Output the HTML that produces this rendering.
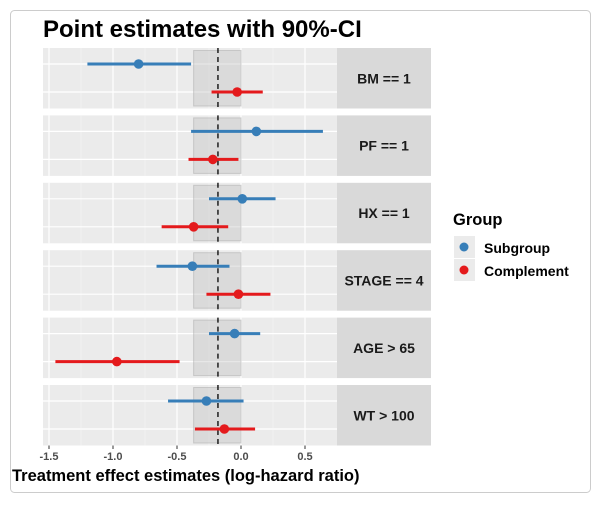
<!DOCTYPE html>
<html><head><meta charset="utf-8"><style>
body{margin:0;background:#fff;font-family:"Liberation Sans",Arial,sans-serif}
svg text{font-family:"Liberation Sans",Arial,sans-serif}
</style></head><body>
<svg id="chart" width="606" height="505" xmlns="http://www.w3.org/2000/svg">
<rect x="10.5" y="10.5" width="580" height="482" rx="4" fill="#fff" stroke="#ccc"/>
<text x="43" y="37" font-size="24" font-weight="bold" fill="#000">Point estimates with 90%-CI</text>
<g id="panels"></g>
<g id="xaxis"></g>
<text x="12" y="481" font-size="16.5" font-weight="bold" fill="#000">Treatment effect estimates (log-hazard ratio)</text>
<g>
<text x="453" y="225" font-size="16.5" font-weight="bold">Group</text>
<rect x="454" y="236" width="21" height="22" fill="#ebebeb"/>
<circle cx="464" cy="247" r="4.5" fill="#377eb8"/>
<text x="484" y="253" font-size="14" font-weight="bold">Subgroup</text>
<rect x="454" y="259" width="21" height="22" fill="#ebebeb"/>
<circle cx="464" cy="270" r="4.5" fill="#e41a1c"/>
<text x="484" y="276" font-size="14" font-weight="bold">Complement</text>
</g>
</svg>
<script>
const categories=["BM == 1","PF == 1","HX == 1","STAGE == 4","AGE > 65","WT > 100"];
const subEst=[-0.80,0.12,0.01,-0.38,-0.05,-0.27];
const subLo=[-1.20,-0.39,-0.25,-0.66,-0.25,-0.57];
const subHi=[-0.39,0.64,0.27,-0.09,0.15,0.02];
const compEst=[-0.03,-0.22,-0.37,-0.02,-0.97,-0.13];
const compLo=[-0.23,-0.41,-0.62,-0.27,-1.45,-0.36];
const compHi=[0.17,-0.02,-0.10,0.23,-0.48,0.11];
const overall=[-0.18];
const bandLo=[-0.37];
const bandHi=[0.0];
const ticks=[-1.5,-1.0,-0.5,0.0,0.5];
const tickLabels=["-1.5","-1.0","-0.5","0.0","0.5"];

const NS="http://www.w3.org/2000/svg";
const L=43,R=337,X0=241,PX=128;
const x=v=>X0+v*PX;
function mk(tag,attrs,parent){const e=document.createElementNS(NS,tag);for(const k in attrs)e.setAttribute(k,attrs[k]);parent.appendChild(e);return e;}
const P=document.getElementById('panels');
categories.forEach((c,i)=>{
  const top=48+i*67.4,h=60.5;
  const g=mk('g',{},P);
  
  
  const bg=mk('rect',{x:L,y:top,width:R-L,height:h,fill:'#ebebeb'},g);
  
  
  for(let t=-1.75;t<=0.75;t+=0.5){const xx=x(t);if(xx>L&&xx<R)mk('line',{x1:xx,x2:xx,y1:top,y2:top+h,stroke:'#f5f5f5','stroke-width':0.6},g);}
  ticks.forEach(t=>mk('line',{x1:x(t),x2:x(t),y1:top,y2:top+h,stroke:'#fff','stroke-width':1.2},g));
  const ys=top+16,yc=top+44;
  [ys,yc].forEach(y=>mk('line',{x1:L,x2:R,y1:y,y2:y,stroke:'#fff','stroke-width':1.2},g));
  const band=mk('rect',{x:x(bandLo[0]),y:top+2.5,width:x(bandHi[0])-x(bandLo[0]),height:h-5,fill:'#bbb','fill-opacity':0.35,stroke:'#aaa','stroke-opacity':0.5},g);
  
  
  const dl=mk('line',{x1:x(overall[0]),x2:x(overall[0]),y1:top,y2:top+h,stroke:'#000','stroke-width':1.3,'stroke-dasharray':'5,4'},g);
  
  
  const s1=mk('line',{x1:x(subLo[i]),x2:x(subHi[i]),y1:ys,y2:ys,stroke:'#377eb8','stroke-width':3},g);
  
  
  const p1=mk('circle',{cx:x(subEst[i]),cy:ys,r:4.8,fill:'#377eb8'},g);
  
  
  const s2=mk('line',{x1:x(compLo[i]),x2:x(compHi[i]),y1:yc,y2:yc,stroke:'#e41a1c','stroke-width':3},g);
  
  
  const p2=mk('circle',{cx:x(compEst[i]),cy:yc,r:4.8,fill:'#e41a1c'},g);
  
  
  const st=mk('rect',{x:R,y:top,width:431-R,height:h,fill:'#d9d9d9'},g);
  
  
  const tx=mk('text',{x:384,y:top+h/2+5,'font-size':14,'font-weight':'bold','text-anchor':'middle',fill:'#1a1a1a'},g);
  tx.textContent=c;
  
  
});
const XA=document.getElementById('xaxis');


ticks.forEach((t,i)=>{
  mk('line',{x1:x(t),x2:x(t),y1:445.5,y2:449,stroke:'#333','stroke-width':1},XA);
  const tl=mk('text',{x:x(t),y:460,'font-size':11,'font-weight':'bold','text-anchor':'middle',fill:'#4d4d4d'},XA);
  tl.textContent=tickLabels[i];
  
  
});
</script>
</body></html>
